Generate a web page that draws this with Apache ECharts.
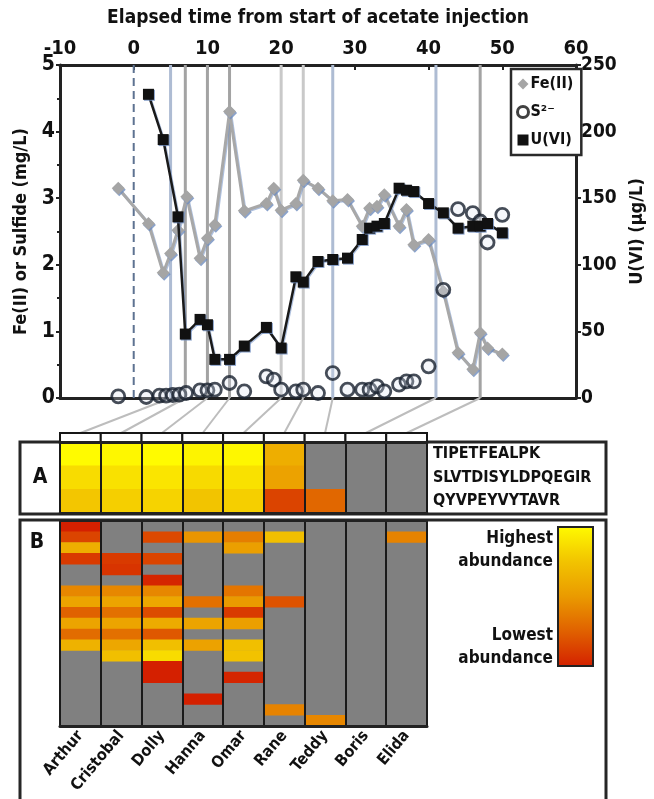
<!DOCTYPE html>
<html><head><meta charset="utf-8">
<script src="https://cdn.jsdelivr.net/npm/echarts@6/dist/echarts.min.js"></script>
<style>html,body{margin:0;padding:0;background:#fff}#c{width:654px;height:799px}</style>
</head><body><div id="c"></div>
<script>
// ---- data ----
const feTime = [-2.1, 2, 4, 5, 6, 7.2, 9, 10, 11, 13, 15, 18, 19, 20, 22, 23, 25, 27, 29, 31, 32, 33, 34, 36, 37, 38, 40, 42, 44, 46, 47, 48, 50];
const feVal  = [3.15, 2.62, 1.88, 2.17, 2.52, 3.02, 2.1, 2.4, 2.6, 4.3, 2.81, 2.92, 3.15, 2.82, 2.92, 3.27, 3.15, 2.96, 2.98, 2.58, 2.85, 2.88, 3.05, 2.58, 2.83, 2.3, 2.38, 1.6, 0.68, 0.43, 0.98, 0.75, 0.66];
const sTime  = [-2.1, 1.7, 3.5, 4.4, 5.3, 6.2, 7.1, 9, 10, 11, 13, 15, 18, 19, 20, 22, 23, 25, 27, 29, 31, 32, 33, 34, 36, 37, 38, 40, 42, 44, 46, 47, 48, 50];
const sVal   = [0.025, 0.015, 0.035, 0.035, 0.045, 0.05, 0.075, 0.115, 0.115, 0.125, 0.225, 0.1, 0.325, 0.275, 0.125, 0.1, 0.125, 0.075, 0.375, 0.125, 0.125, 0.125, 0.175, 0.1, 0.2, 0.25, 0.25, 0.475, 1.625, 2.835, 2.775, 2.65, 2.335, 2.75];
const uTime  = [2, 4, 6, 7, 9, 10, 11, 13, 15, 18, 20, 22, 23, 25, 27, 29, 31, 32, 33, 34, 36, 37, 38, 40, 42, 44, 46, 47, 48, 50];
const uVal   = [228, 194, 136, 48, 59, 55, 29, 29, 39, 53, 37.5, 91, 87, 102.5, 104, 105, 119, 127.5, 129, 131, 157.5, 156, 155, 146, 139, 127.5, 129, 129, 131, 124];

const injectionTime = 0;
const strains = ['Arthur', 'Cristobal', 'Dolly', 'Hanna', 'Omar', 'Rane', 'Teddy', 'Boris', 'Elida'];
const sampleTimes = [5, 7, 10, 13, 20, 23, 27, 41, 47];
const sampleKinds = ['blue', 'gray', 'gray', 'gray', 'light', 'light', 'blue', 'blue', 'gray'];

const peptides = ['TIPETFEALPK', 'SLVTDISYLDPQEGIR', 'QYVPEYVYTAVR'];
// relative abundance (0 = lowest, 1 = highest), null = not detected
const pepArthur    = [1.0, 0.86, 0.76];
const pepCristobal = [0.98, 0.88, 0.8];
const pepDolly     = [1.0, 0.9, 0.82];
const pepHanna     = [0.97, 0.85, 0.75];
const pepOmar      = [0.98, 0.88, 0.8];
const pepRane      = [0.62, 0.55, 0.14];
const pepTeddy     = [null, null, 0.28];
const pepBoris     = [null, null, null];
const pepElida     = [null, null, null];

const protRows = ['1','2','3','4','5','6','7','8','9','10','11','12','13','14','15','16','17','18','19'];
const protArthur    = [0.0, 0.14, 0.62, 0.1, null, null, 0.42, 0.56, 0.26, 0.56, 0.3, 0.64, null, null, null, null, null, null, null];
const protCristobal = [null, null, null, 0.1, 0.08, null, 0.42, 0.56, 0.32, 0.56, 0.32, 0.58, 0.72, null, null, null, null, null, null];
const protDolly     = [null, 0.16, null, 0.14, null, 0.02, 0.42, 0.58, 0.17, 0.6, 0.22, 0.72, 0.86, 0.0, 0.0, null, null, null, null];
const protHanna     = [null, 0.48, null, null, null, null, null, 0.32, null, 0.56, null, 0.55, null, null, null, null, 0.0, null, null];
const protOmar      = [null, 0.38, 0.53, null, null, null, 0.34, 0.5, 0.1, 0.53, null, 0.72, 0.74, null, 0.02, null, null, null, null];
const protRane      = [null, 0.72, null, null, null, null, null, 0.2, null, null, null, null, null, null, null, null, null, 0.4, null];
const protTeddy     = [null, null, null, null, null, null, null, null, null, null, null, null, null, null, null, null, null, null, 0.42];
const protBoris     = [null, null, null, null, null, null, null, null, null, null, null, null, null, null, null, null, null, null, null];
const protElida     = [null, 0.4, null, null, null, null, null, null, null, null, null, null, null, null, null, null, null, null, null];

const heatColors = ['#d42000', '#e06000', '#ea9a00', '#f2c400', '#fffb00'];

// ---- build ----
const pepCols = [pepArthur, pepCristobal, pepDolly, pepHanna, pepOmar, pepRane, pepTeddy, pepBoris, pepElida];
const protCols = [protArthur, protCristobal, protDolly, protHanna, protOmar, protRane, protTeddy, protBoris, protElida];
const toCells = cols => { const out = []; cols.forEach((col, i) => col.forEach((v, j) => { if (v !== null) out.push([i, j, v]); })); return out; };

const FONT = "'Liberation Sans Narrow','DejaVu Sans Condensed','Liberation Sans',sans-serif";
const kindColor = { blue: '#aebcd3', gray: '#a3a3a3', light: '#c9c9c9' };
const chart = echarts.init(document.getElementById('c'), null, { renderer: 'canvas' });

const axisLineDark = { show: true, onZero: false, lineStyle: { color: '#222', width: 3 } };
const hidden = { show: false };

const option = {
  animation: false,
  textStyle: { fontFamily: FONT, fontWeight: 'bold', color: '#111' },
  grid: [
    { left: 60, top: 65, width: 517, height: 333 },
    { left: 60, top: 442, width: 367, height: 71, show: true, backgroundColor: '#808080', borderWidth: 0 },
    { left: 60, top: 521, width: 367, height: 205, show: true, backgroundColor: '#808080', borderWidth: 0 },
    { left: 60, top: 433, width: 367, height: 9 },
    { left: 60, top: 398, width: 367, height: 35 }
  ],
  xAxis: [
    { gridIndex: 0, type: 'value', position: 'top', min: -10, max: 60, interval: 10,
      name: 'Elapsed time from start of acetate injection', nameLocation: 'middle', nameGap: 37,
      nameTextStyle: { fontSize: 19, fontWeight: 'bold', fontFamily: FONT, color: '#111' },
      axisLine: axisLineDark, axisTick: { show: true, inside: true, length: 5, lineStyle: { color: '#222', width: 2 } },
      axisLabel: { fontSize: 20, fontWeight: 'bold', fontFamily: FONT, color: '#111', margin: 6 }, splitLine: hidden },
    { gridIndex: 0, type: 'value', position: 'bottom', min: -10, max: 60, interval: 10,
      axisLine: axisLineDark, axisTick: hidden, axisLabel: hidden, splitLine: hidden },
    { gridIndex: 1, type: 'category', data: strains, position: 'bottom', z: 10,
      axisLine: axisLineDark, axisTick: hidden, axisLabel: hidden, splitLine: hidden },
    { gridIndex: 1, type: 'value', position: 'top', min: 0, max: strains.length, interval: 1, z: 10,
      axisLine: axisLineDark, axisTick: hidden, axisLabel: hidden,
      splitLine: { show: true, lineStyle: { color: '#1a1a1a', width: 2 } } },
    { gridIndex: 2, type: 'category', data: strains, position: 'bottom', z: 10,
      axisLine: axisLineDark, axisTick: hidden,
      axisLabel: { rotate: 50, margin: 7, fontSize: 16, fontWeight: 'bold', fontFamily: FONT, color: '#111' }, splitLine: hidden },
    { gridIndex: 2, type: 'value', position: 'top', min: 0, max: strains.length, interval: 1, z: 10,
      axisLine: { show: true, onZero: false, lineStyle: { color: '#222', width: 2 } }, axisTick: hidden, axisLabel: hidden,
      splitLine: { show: true, lineStyle: { color: '#1a1a1a', width: 2 } } },
    { gridIndex: 3, type: 'category', data: strains, show: false },
    { gridIndex: 4, type: 'category', data: strains, show: false }
  ],
  yAxis: [
    { gridIndex: 0, type: 'value', position: 'left', min: 0, max: 5, interval: 1,
      name: 'Fe(II) or Sulfide (mg/L)', nameLocation: 'middle', nameRotate: 90, nameGap: 30,
      nameTextStyle: { fontSize: 18, fontWeight: 'bold', fontFamily: FONT, color: '#111' },
      axisLine: axisLineDark, axisTick: { show: true, length: 4, lineStyle: { color: '#222', width: 2 } },
      minorTick: { show: true, splitNumber: 2, length: 3, lineStyle: { color: '#222', width: 2 } },
      axisLabel: { fontSize: 21, fontWeight: 'bold', fontFamily: FONT, color: '#111', margin: 5 }, splitLine: hidden, minorSplitLine: hidden },
    { gridIndex: 0, type: 'value', position: 'right', min: 0, max: 250, interval: 50,
      name: 'U(VI) (\u00b5g/L)', nameLocation: 'middle', nameRotate: 90, nameGap: 52,
      nameTextStyle: { fontSize: 18, fontWeight: 'bold', fontFamily: FONT, color: '#111' },
      axisLine: axisLineDark, axisTick: { show: true, length: 5, lineStyle: { color: '#222', width: 2 } },
      axisLabel: { fontSize: 19, fontWeight: 'bold', fontFamily: FONT, color: '#111', margin: 5 }, splitLine: hidden },
    { gridIndex: 1, type: 'category', data: peptides, inverse: true, position: 'right',
      axisLine: hidden, axisTick: hidden, splitLine: hidden,
      axisLabel: { fontSize: 16, fontWeight: 'bold', fontFamily: FONT, color: '#111', margin: 6, align: 'left' } },
    { gridIndex: 2, type: 'category', data: protRows, inverse: true, show: false },
    { gridIndex: 3, type: 'value', min: 0, max: 1, show: false },
    { gridIndex: 4, type: 'value', min: 0, max: 1, show: false }
  ],
  legend: {
    orient: 'vertical', left: 511, top: 69, itemGap: 12, itemWidth: 11, itemHeight: 11,
    padding: [7, 8, 7, 5], borderColor: '#2a2a2a', borderWidth: 2.5, backgroundColor: '#fff',
    textStyle: { fontSize: 16, fontWeight: 'bold', fontFamily: FONT, color: '#111', padding: [0, 0, 0, -3] },
    data: [
      { name: 'Fe(II)', icon: 'diamond', itemStyle: { color: '#a5a5a5' } },
      { name: 'S\u00b2\u207b', icon: 'circle', itemStyle: { color: '#fff', borderColor: '#111', borderWidth: 3 } },
      { name: 'U(VI)', icon: 'rect', itemStyle: { color: '#111' } }
    ]
  },
  visualMap: { type: 'continuous', show: false, min: 0, max: 1, seriesIndex: [5, 6], inRange: { color: heatColors } },
  graphic: [
    { type: 'rect', z: 0, shape: { x: 20, y: 442, width: 586, height: 72 }, style: { fill: 'none', stroke: '#262626', lineWidth: 3 } },
    { type: 'rect', z: 0, shape: { x: 20, y: 520, width: 586, height: 300 }, style: { fill: 'none', stroke: '#262626', lineWidth: 3 } },
    { type: 'text', z: 5, style: { x: 40, y: 478, text: 'A', fontSize: 21, fontWeight: 'bold', fontFamily: FONT, fill: '#111', align: 'center', verticalAlign: 'middle' } },
    { type: 'text', z: 5, style: { x: 37, y: 543, text: 'B', fontSize: 21, fontWeight: 'bold', fontFamily: FONT, fill: '#111', align: 'center', verticalAlign: 'middle' } },
    { type: 'rect', z: 5, shape: { x: 558, y: 527, width: 35, height: 139 },
      style: { stroke: '#222', lineWidth: 2,
        fill: new echarts.graphic.LinearGradient(0, 0, 0, 1, heatColors.slice().reverse().map((c, i, a) => ({ offset: i / (a.length - 1), color: c }))) } },
    { type: 'text', z: 5, style: { x: 553, y: 550, text: 'Highest\nabundance', lineHeight: 23, fontSize: 17, fontWeight: 'bold', fontFamily: FONT, fill: '#111', align: 'right', verticalAlign: 'middle' } },
    { type: 'text', z: 5, style: { x: 553, y: 647, text: 'Lowest\nabundance', lineHeight: 23, fontSize: 17, fontWeight: 'bold', fontFamily: FONT, fill: '#111', align: 'right', verticalAlign: 'middle' } }
  ],
  series: [
    { type: 'custom', name: 'samples', xAxisIndex: 0, yAxisIndex: 0, z: 1, silent: true,
      data: sampleTimes.map((t, i) => [t, i]),
      renderItem: (params, api) => {
        const t = api.value(0);
        const p0 = api.coord([t, 0]), p1 = api.coord([t, 5]);
        return { type: 'line', shape: { x1: p0[0], y1: p0[1], x2: p1[0], y2: p1[1] },
          style: { stroke: kindColor[sampleKinds[params.dataIndex]], lineWidth: 3 } };
      } },
    { type: 'custom', name: 'injection', xAxisIndex: 0, yAxisIndex: 0, z: 1, silent: true,
      data: [[injectionTime, 0]],
      renderItem: (params, api) => {
        const t = api.value(0);
        const p0 = api.coord([t, 0]), p1 = api.coord([t, 5]);
        return { type: 'line', shape: { x1: p0[0], y1: p0[1], x2: p1[0], y2: p1[1] },
          style: { stroke: '#5d7291', lineWidth: 2, lineDash: [8, 5] } };
      } },
    { type: 'line', name: 'Fe(II)', xAxisIndex: 0, yAxisIndex: 0, z: 3,
      data: feTime.map((t, i) => [t, feVal[i]]),
      symbol: 'diamond', symbolSize: 13,
      itemStyle: { color: '#a5a5a5', shadowColor: 'rgba(110,140,190,0.8)', shadowOffsetX: 1, shadowOffsetY: 1.5 },
      lineStyle: { color: '#a8a8a8', width: 3, shadowColor: 'rgba(120,150,200,0.6)', shadowOffsetX: 1, shadowOffsetY: 1 } },
    { type: 'scatter', name: 'S\u00b2\u207b', xAxisIndex: 0, yAxisIndex: 0, z: 4,
      data: sTime.map((t, i) => [t, sVal[i]]),
      symbol: 'circle', symbolSize: 13,
      itemStyle: { color: 'rgba(220,228,240,0.35)', borderColor: '#18202e', borderWidth: 2.8 } },
    { type: 'line', name: 'U(VI)', xAxisIndex: 0, yAxisIndex: 1, z: 5,
      data: uTime.map((t, i) => [t, uVal[i]]),
      symbol: 'rect', symbolSize: 11,
      itemStyle: { color: '#111', shadowColor: 'rgba(110,140,190,0.8)', shadowOffsetX: 1, shadowOffsetY: 1 },
      lineStyle: { color: '#1a1a1a', width: 2.5, shadowColor: 'rgba(120,150,200,0.6)', shadowOffsetX: 1, shadowOffsetY: 1 } },
    { type: 'heatmap', name: 'peptides', xAxisIndex: 2, yAxisIndex: 2, data: toCells(pepCols) },
    { type: 'heatmap', name: 'proteins', xAxisIndex: 4, yAxisIndex: 3, data: toCells(protCols) },
    { type: 'custom', name: 'headers', xAxisIndex: 6, yAxisIndex: 4, silent: true,
      data: strains.map((s, i) => [i, 0]),
      renderItem: (params, api) => {
        const i = api.value(0);
        const b = api.coord([i, 0]), t = api.coord([i, 1]);
        const w = api.size([1, 0])[0];
        return { type: 'rect', shape: { x: b[0] - w / 2, y: t[1], width: w, height: b[1] - t[1] },
          style: { fill: '#fff', stroke: '#161616', lineWidth: 2 } };
      } },
    { type: 'custom', name: 'links', xAxisIndex: 7, yAxisIndex: 5, silent: true, clip: false, z: 1,
      data: strains.map((s, i) => [i, 0, sampleTimes[i]]),
      encode: { x: 0, y: 1 },
      renderItem: (params, api) => {
        const i = api.value(0);
        const bottom = api.coord([i, 0]);
        const top = api.coord([i, 1]);
        const tx = chart.convertToPixel({ xAxisIndex: 0 }, api.value(2));
        return { type: 'line', shape: { x1: tx, y1: top[1], x2: bottom[0], y2: bottom[1] },
          style: { stroke: '#bdbdbd', lineWidth: 2 } };
      } }
  ]
};
chart.setOption(option);
</script></body></html>
